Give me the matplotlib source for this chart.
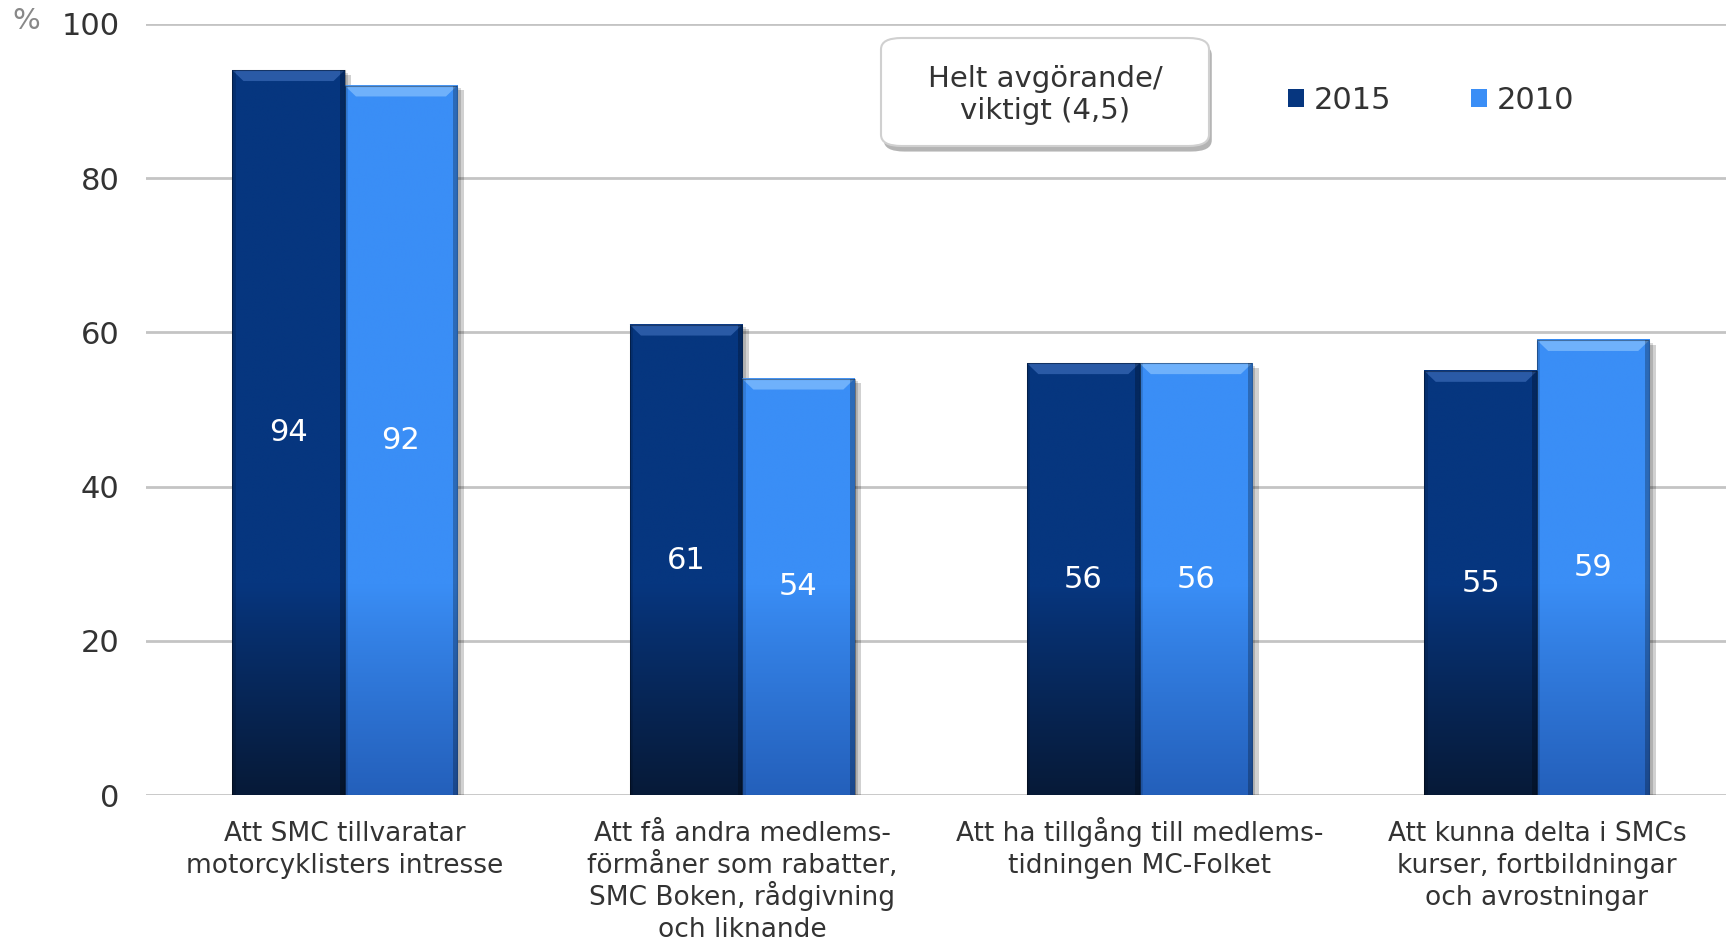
import numpy as np
import matplotlib
matplotlib.use("Agg")
import matplotlib.pyplot as plt
import matplotlib.patheffects as pe
from matplotlib.patches import FancyBboxPatch
from matplotlib.colors import to_rgb

categories = [
    "Att SMC tillvaratar\nmotorcyklisters intresse",
    "Att få andra medlems-\nförmåner som rabatter,\nSMC Boken, rådgivning\noch liknande",
    "Att ha tillgång till medlems-\ntidningen MC-Folket",
    "Att kunna delta i SMCs\nkurser, fortbildningar\noch avrostningar",
]
series_names = ["2015", "2010"]
values_2015 = [94, 61, 56, 55]
values_2010 = [92, 54, 56, 59]
value_labels_2015 = ["94", "61", "56", "55"]
value_labels_2010 = ["92", "54", "56", "59"]
yticks = [0, 20, 40, 60, 80, 100]

plt.rcParams['font.family'] = ['DejaVu Sans']

fig = plt.figure(figsize=(17.26, 9.40), dpi=100)
ax = fig.add_axes([0.0846, 0.154, 0.921, 0.8205])

x = np.arange(len(categories))
w = 0.283
top_cols = ["#06367f", "#3a8ef6"]
bot_cols = ["#071a38", "#2460bb"]
bevel_cols = ["#2a5aa6", "#6fb1fb"]

bars_a = ax.bar(x - w/2, values_2015, w, color=top_cols[0], zorder=2, label=series_names[0])
bars_b = ax.bar(x + w/2, values_2010, w, color=top_cols[1], zorder=2, label=series_names[1])

def shade(bars, ci):
    c_top = np.array(to_rgb(top_cols[ci]))
    c_bot = np.array(to_rgb(bot_cols[ci]))
    for b in bars:
        x0, h, bw = b.get_x(), b.get_height(), b.get_width()
        ax.add_patch(plt.Rectangle((x0 + bw*0.06, 0), bw, h - 0.6, color="#000000",
                                   alpha=0.18, zorder=1, linewidth=0))
        ax.add_patch(plt.Rectangle((x0 + bw*0.03, 0), bw, h - 0.3, color="#000000",
                                   alpha=0.15, zorder=1, linewidth=0))
        ys = np.linspace(0, h, 200)
        t = np.clip((27 - ys) / 27, 0, 1)[:, None] ** 0.9
        img = (c_top[None, :] * (1 - t) + c_bot[None, :] * t)
        img = np.repeat(img[:, None, :], 2, axis=1)
        ax.imshow(img, extent=(x0, x0 + bw, 0, h), origin="lower", aspect="auto",
                  zorder=2.5, interpolation="bilinear")
        ax.add_patch(plt.Polygon([(x0, h), (x0 + bw, h), (x0 + bw*0.9, h - 1.4), (x0 + bw*0.1, h - 1.4)],
                                 closed=True, color=bevel_cols[ci], zorder=2.6, linewidth=0))
        ax.add_patch(plt.Rectangle((x0 + bw*0.96, 0), bw*0.04, h, color="#000000", alpha=0.25,
                                   zorder=2.7, linewidth=0))
        ax.add_patch(plt.Rectangle((x0, 0), bw*0.03, h, color="#000000", alpha=0.12,
                                   zorder=2.7, linewidth=0))
        ax.add_patch(plt.Rectangle((x0, 0), bw, h, fill=False, edgecolor="#000000", alpha=0.35,
                                   linewidth=0.8, zorder=2.8))

shade(bars_a, 0)
shade(bars_b, 1)

for bars, labs in ((bars_a, value_labels_2015), (bars_b, value_labels_2010)):
    for b, lab in zip(bars, labs):
        ax.text(b.get_x() + b.get_width()/2, b.get_height()/2, lab, ha="center", va="center",
                color="white", fontsize=22, zorder=5)

ax.set_xlim(-0.5, 3.5)
ax.set_ylim(0, 100)
ax.set_yticks(yticks)
ax.set_yticklabels([str(v) for v in yticks], fontsize=22, color="#333333")
ax.set_xticks(x)
ax.set_xticklabels([""] * len(categories))
ax.tick_params(axis="both", length=0)
ax.tick_params(axis="y", pad=19)
ax.yaxis.grid(True, color="#c4c4c4", linewidth=2)
ax.set_axisbelow(True)
for s in ax.spines.values():
    s.set_visible(False)

for xi, cat in zip(x, categories):
    for j, line in enumerate(cat.split("\n")):
        ax.annotate(line, xy=(xi, 0), xycoords=("data", "axes fraction"),
                    xytext=(0, -33 - 23 * j), textcoords="offset points",
                    ha="center", va="baseline", fontsize=19, color="#333333",
                    annotation_clip=False)

fig.text(0.0070, 0.978, "%", fontsize=21, color="#888888", ha="left", va="center")

bx, by, bw_, bh_ = 881 / 1726, 1 - 146 / 940, 328 / 1726, 108 / 940
box = FancyBboxPatch((bx, by), bw_, bh_, boxstyle="round,pad=0,rounding_size=0.012",
                     transform=fig.transFigure, facecolor="white", edgecolor="#d0d0d0",
                     linewidth=1.5, zorder=10)
box.set_path_effects([pe.SimplePatchShadow(offset=(2, -4), shadow_rgbFace="#777777", alpha=0.55),
                      pe.Normal()])
fig.add_artist(box)
fig.text(bx + bw_/2, 1 - 95 / 940, "Helt avgörande/\nviktigt (4,5)", fontsize=21, color="#333333",
         ha="center", va="center", linespacing=1.2, zorder=11)

leg = fig.legend(handles=[bars_a, bars_b], labels=series_names, loc="center",
                 bbox_to_anchor=(0.829, 0.893), ncol=2, frameon=False, fontsize=22,
                 handlelength=0.55, handleheight=0.55, handletextpad=0.3, columnspacing=2.6,
                 labelcolor="#333333")

fig.savefig("out.png", dpi=100)
